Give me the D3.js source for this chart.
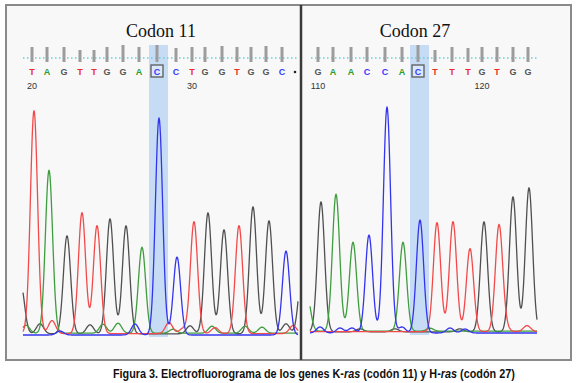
<!DOCTYPE html>
<html><head><meta charset="utf-8">
<script src="https://cdn.jsdelivr.net/npm/d3@7"></script>
<style>body{margin:0;background:#fff}svg{display:block}</style></head>
<body><svg id="c" width="579" height="383"></svg>
<script>
// ---------------- DATA ----------------
const leftTitle = "Codon 11";
const rightTitle = "Codon 27";

// base calls: letter, scan position, quality (bar length)
const leftBases = ["T","A","G","T","T","G","G","A","C","C","T","G","G","T","G","G","C"];
const leftCalls = [9,24,41,57,71,84,100,116,134,153,169,182,199,214,228,243,259];
const leftQual  = [15,15,15,12,12,15,17,15,17,14,15,15,16,15,15,16,15];
const leftNumbers = [[0,"20"],[10,"30"]];
const leftMarked = 8;
const leftEndDot = 272;

const rightBases = ["G","A","A","C","C","A","C","T","T","T","G","T","G","G"];
const rightCalls = [8,23,41,57,75,92,108,125,142,158,172,187,203,218];
const rightQual  = [15,15,15,15,15,15,17,12,15,14,15,15,15,15];
const rightNumbers = [[0,"110"],[10,"120"]];
const rightMarked = 6;

// trace peaks: channel, scan, height
const leftPeaks = [
  ["G",-2,48],["T",11,223],["A",26,163],["G",44,98],["T",59,121],["T",74,108],
  ["G",87,115],["G",103,108],["A",119,86],["C",136,217],["C",154,78],["T",171,112],
  ["G",185,121],["G",201,104],["T",216,108],["G",230,127],["G",246,113],["C",263,84],
  ["G",279,60]
];
const leftMinor = [
  ["A",3,8],["G",17,10],["T",29,13],["C",37,4],["G",67,9],["A",80,9],["A",95,10],
  ["C",112,11],["T",146,11],["G",167,8],["A",189,7],["T",192,6],["A",222,7],
  ["A",239,6],["G",263,10],["T",270,8],["T",160,5],["A",150,4]
];
const rightPeaks = [
  ["A",-3,35],["G",11,130],["A",26,137],["A",43,89],["C",59,98],["C",77,226],
  ["A",93,89],["C",110,113],["T",127,109],["T",143,110],["T",160,83],["G",174,110],
  ["T",189,106],["G",203,135],["G",219,144]
];
const rightMinor = [
  ["C",10,6],["C",30,5],["C",42,5],["G",50,3],["C",92,6],["G",85,3],["C",140,5],
  ["C",155,4],["T",195,5],["T",217,6],["A",120,3],["G",150,3]
];

const caption = [["Figura 3. Electrofluorograma de los genes K-",false],["ras",true],
  [" (codón 11) y H-",false],["ras",true],[" (codón 27)",false]];

// ---------------- STYLE / LAYOUT ----------------
const SIGMA = 3.6;
const traceColor = {G:"#505050", A:"#3f9d3f", T:"#f24a4a", C:"#3434ee"};
const letterColor = {G:"#555", A:"#2f9a2f", T:"#ee2b2b", C:"#3a3aff"};
const baseOffset = {G:1.2, A:1.8, T:1.4, C:0};
const drawOrder = ["G","A","T","C"];

const svg = d3.select("#c");
svg.append("rect").attr("x",6).attr("y",5).attr("width",565).attr("height",355)
  .attr("fill","#f8f8f8").attr("stroke","#8a8a8a").attr("stroke-width",2);

function panel(cfg){
  const x = d3.scaleLinear().domain(cfg.domain).range(cfg.xr);
  const y = d3.scaleLinear().domain([0,250]).range([cfg.base, cfg.base-250]);
  const g = svg.append("g");
  // highlight column
  const hx = x(cfg.calls[cfg.marked]);
  g.append("rect").attr("x",hx-8).attr("y",45).attr("width",19).attr("height",cfg.base+2-45)
    .attr("fill","#c6dcf5");
  // title
  g.append("text").attr("x",cfg.titleX).attr("y",37).attr("text-anchor","middle")
    .attr("font-family","Liberation Serif, Times New Roman, serif").attr("font-size",18)
    .attr("fill","#111").text(cfg.title);
  // dotted cyan line
  g.append("line").attr("x1",cfg.dotX[0]).attr("x2",cfg.dotX[1]).attr("y1",58).attr("y2",58)
    .attr("stroke","#5fd3dc").attr("stroke-width",1.4).attr("stroke-dasharray","1.5,2.5");
  // quality bars
  g.selectAll("rect.q").data(cfg.calls).join("rect").attr("class","q")
    .attr("x",d=>x(d)-1.5).attr("width",3)
    .attr("y",(d,i)=>62-cfg.qual[i]).attr("height",(d,i)=>cfg.qual[i])
    .attr("fill","#9c9c9c");
  // marked box
  g.append("rect").attr("x",hx-6).attr("y",65).attr("width",12).attr("height",12)
    .attr("fill","#d9e8fa").attr("stroke","#5a5a5a").attr("stroke-width",1.3);
  // letters
  g.selectAll("text.b").data(cfg.calls).join("text").attr("class","b")
    .attr("x",d=>x(d)).attr("y",75).attr("text-anchor","middle")
    .attr("font-family","Liberation Sans, Arial, sans-serif").attr("font-size",9)
    .attr("font-weight","bold").attr("fill",(d,i)=>letterColor[cfg.bases[i]])
    .text((d,i)=>cfg.bases[i]);
  if(cfg.endDot!=null){
    g.append("circle").attr("cx",x(cfg.endDot)).attr("cy",72).attr("r",1.3).attr("fill","#222");
  }
  // numbers
  g.selectAll("text.n").data(cfg.numbers).join("text").attr("class","n")
    .attr("x",d=>x(cfg.calls[d[0]])).attr("y",89).attr("text-anchor","middle")
    .attr("font-family","Liberation Sans, Arial, sans-serif").attr("font-size",9)
    .attr("fill","#333").text(d=>d[1]);
  // traces
  const all = cfg.peaks.concat(cfg.minor);
  const scans = d3.range(cfg.domain[0], cfg.domain[1]+0.01, 0.5);
  const line = d3.line().x(d=>x(d[0])).y(d=>y(d[1]));
  drawOrder.forEach(ch=>{
    const pk = all.filter(p=>p[0]===ch);
    const pts = scans.map(s=>[s, baseOffset[ch] + d3.sum(pk, p=>p[2]*Math.exp(-((s-p[1])**2)/(2*SIGMA*SIGMA)))]);
    g.append("path").attr("d",line(pts)).attr("fill","none")
      .attr("stroke",traceColor[ch]).attr("stroke-width",1.3).attr("stroke-linejoin","round");
  });
}

panel({title:leftTitle, titleX:161, domain:[0,275], xr:[23,298], base:335,
  bases:leftBases, calls:leftCalls, qual:leftQual, numbers:leftNumbers, marked:leftMarked,
  endDot:leftEndDot, dotX:[23,298], peaks:leftPeaks, minor:leftMinor});
panel({title:rightTitle, titleX:415, domain:[0,227], xr:[310,537], base:333,
  bases:rightBases, calls:rightCalls, qual:rightQual, numbers:rightNumbers, marked:rightMarked,
  endDot:null, dotX:[311,539], peaks:rightPeaks, minor:rightMinor});

// divider
svg.append("line").attr("x1",301).attr("x2",301).attr("y1",5).attr("y2",360)
  .attr("stroke","#3a3a3a").attr("stroke-width",2.5);

// caption (one text, horizontally condensed to the reference width)
const cap = svg.append("text").attr("x",0).attr("y",0)
  .attr("font-family","Liberation Sans, Arial, sans-serif").attr("font-size",12.5)
  .attr("font-weight","bold").attr("fill","#111");
caption.forEach(c=>cap.append("tspan").attr("font-style",c[1]?"italic":"normal").text(c[0]));
const capW = cap.node().getComputedTextLength();
cap.attr("transform",`translate(113,378) scale(${402/capW},1)`);
</script>
</body></html>
